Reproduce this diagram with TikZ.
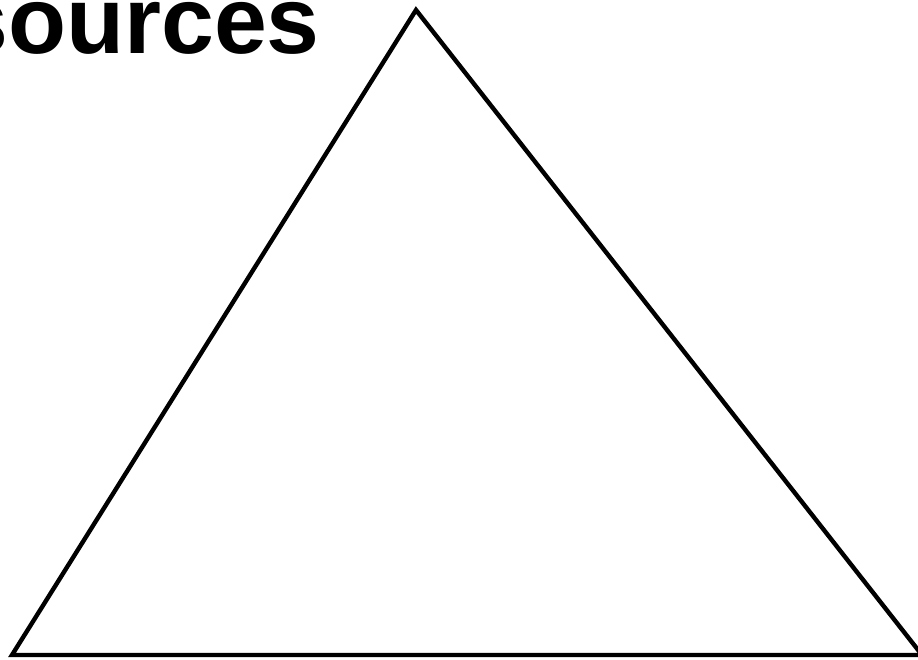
\documentclass[tikz,border=0pt]{standalone}
\usepackage{fontspec}
\setmainfont{Liberation Sans}
\usepackage{tikz}

\begin{document}
\begin{tikzpicture}[x=1pt,y=-1pt,line width=4.4pt,line join=miter]
    \useasboundingbox (0,0) rectangle (918,660);
    \clip (0,0) rectangle (918,660);
    \coordinate (top) at (416,10);
    \coordinate (left) at (12,655);
    \coordinate (right) at (922,655);
    \draw (top) -- (left) -- (right) -- cycle;
    \node[anchor=base east,inner sep=0pt,font=\bfseries\fontsize{95}{95}\selectfont] (title) at (322,54) {sources};
\end{tikzpicture}
\end{document}
